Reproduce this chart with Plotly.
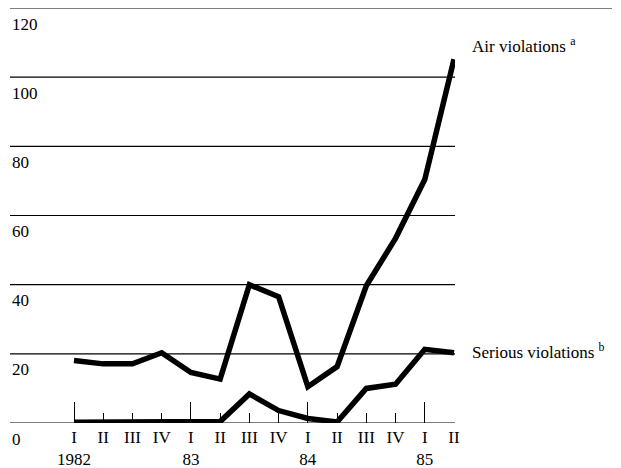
import plotly.graph_objects as go

quarters = ["I", "II", "III", "IV", "I", "II", "III", "IV", "I", "II", "III", "IV", "I", "II"]
years = {0: "1982", 4: "83", 8: "84", 12: "85"}
air = [18.1, 17.1, 17.1, 20.3, 14.6, 12.7, 40.0, 36.5, 10.5, 16.3, 39.7, 53.4, 70.4, 105.2]
serious = [0.2, 0.2, 0.2, 0.2, 0.3, 0.4, 8.4, 3.6, 1.3, 0.3, 10.0, 11.2, 21.3, 20.3]
y_ticks = [0, 20, 40, 60, 80, 100, 120]

x = list(range(len(quarters)))
ticktext = [q + ("<br>" + years[i] if i in years else "") for i, q in enumerate(quarters)]

FONT = "Liberation Serif, Times New Roman, serif"
PLOT_L, PLOT_R, TOP_R = 10, 455, 612
W, H = 621, 468

fig = go.Figure()
fig.add_trace(go.Scatter(x=x, y=air, mode="lines", line=dict(color="black", width=5.5),
                         cliponaxis=False, showlegend=False))
fig.add_trace(go.Scatter(x=x, y=serious, mode="lines", line=dict(color="black", width=5.5),
                         cliponaxis=False, showlegend=False))
fig.add_trace(go.Scatter(x=[0], y=[0], xaxis="x2", mode="lines", showlegend=False,
                         hoverinfo="skip", line=dict(width=0)))

shapes = []
annotations = []
for v in y_ticks:
    x1 = (TOP_R - PLOT_L) / (PLOT_R - PLOT_L) if v == y_ticks[-1] else 1
    shapes.append(dict(type="line", xref="paper", yref="y", x0=0, x1=x1, y0=v, y1=v,
                       layer="below", line=dict(color="black", width=1.2)))
    annotations.append(dict(text=str(v), xref="paper", yref="y", x=0, y=v, xshift=0,
                            yshift=-16, xanchor="left", yanchor="middle", showarrow=False,
                            font=dict(family=FONT, size=17, color="black")))

annotations += [
    dict(text="Air violations <sup>a</sup>", xref="paper", yref="y",
         x=(470 - PLOT_L) / (PLOT_R - PLOT_L), y=109.3,
         xanchor="left", yanchor="middle", showarrow=False,
         font=dict(family=FONT, size=17, color="black")),
    dict(text="Serious violations <sup>b</sup>", xref="paper", yref="y",
         x=(470 - PLOT_L) / (PLOT_R - PLOT_L), y=20.8,
         xanchor="left", yanchor="middle", showarrow=False,
         font=dict(family=FONT, size=17, color="black")),
]

xr = [-64 / 29.23, 13 + 1 / 29.23]
fig.update_layout(
    width=W, height=H,
    margin=dict(l=PLOT_L, r=W - PLOT_R, t=8, b=45, autoexpand=False),
    paper_bgcolor="white", plot_bgcolor="white",
    font=dict(family=FONT, size=17, color="black"),
    xaxis=dict(range=xr, tickmode="array", tickvals=x, ticktext=ticktext,
               ticks="inside", ticklen=10, tickwidth=1.2, tickcolor="black",
               ticklabelstandoff=2,
               showgrid=False, zeroline=False, showline=False, automargin=False,
               tickfont=dict(family=FONT, size=17, color="black")),
    xaxis2=dict(range=xr, overlaying="x", anchor="y", side="bottom",
                tickmode="array", tickvals=list(years.keys()),
                ticks="inside", ticklen=21, tickwidth=1.2, tickcolor="black",
                showticklabels=False, showgrid=False, zeroline=False, showline=False,
                automargin=False),
    yaxis=dict(range=[0, 120], showticklabels=False,
               showgrid=False, zeroline=False, showline=False, ticks="",
               automargin=False),
    shapes=shapes,
    annotations=annotations,
)

fig.write_html("out.html", config={"displayModeBar": False},
               post_script="document.body.style.margin='0';document.body.style.overflow='hidden';")
